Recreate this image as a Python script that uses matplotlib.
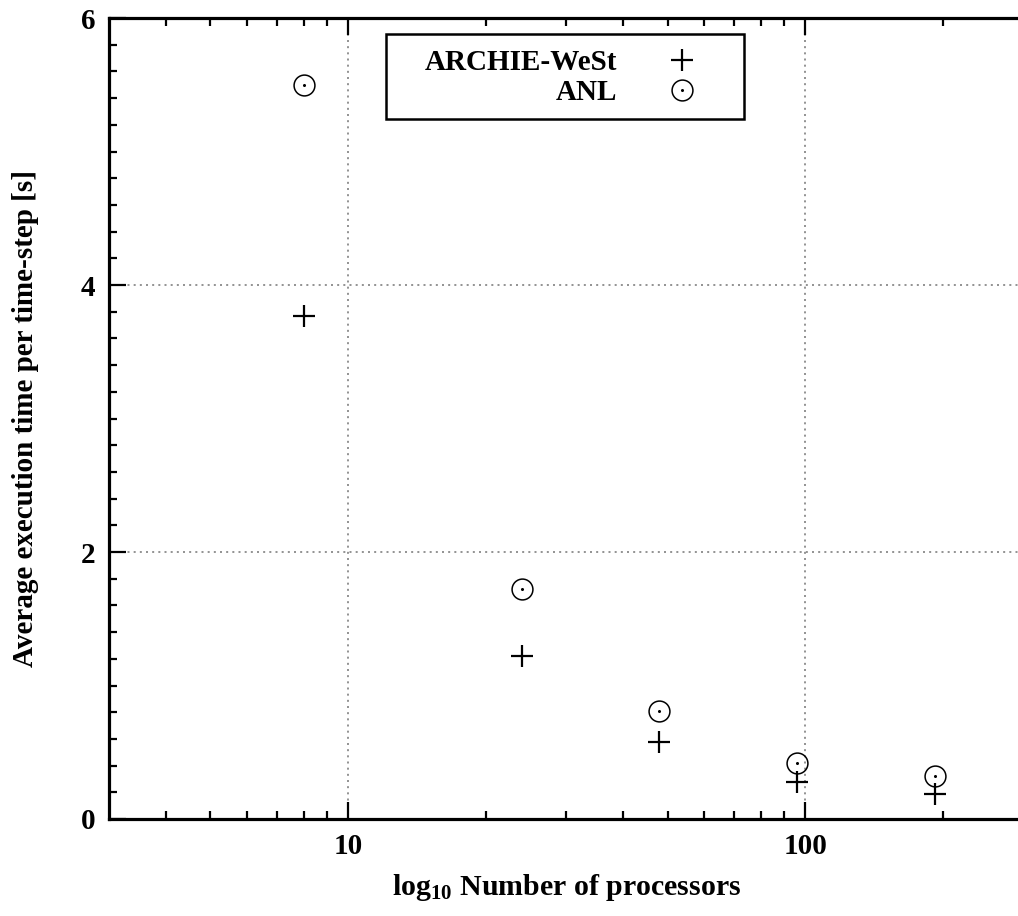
import numpy as np
import matplotlib
matplotlib.use("Agg")
import matplotlib.pyplot as plt
from matplotlib.patches import Rectangle
from matplotlib.ticker import FixedLocator, MultipleLocator, NullFormatter, FixedFormatter

plt.rcParams['font.family'] = ['Liberation Serif', 'DejaVu Serif']
plt.rcParams['font.weight'] = 'bold'
plt.rcParams['mathtext.fontset'] = 'custom'
plt.rcParams['mathtext.rm'] = 'Liberation Serif:bold'
plt.rcParams['mathtext.bf'] = 'Liberation Serif:bold'
plt.rcParams['mathtext.it'] = 'Liberation Serif:bold:italic'

# processors vs. average time per step
procs = [8, 24, 48, 96, 192]
archie = [3.77, 1.22, 0.58, 0.28, 0.19]
anl = [5.50, 1.72, 0.81, 0.42, 0.32]

fig = plt.figure(figsize=(10.18, 9.16), dpi=100)
ax = fig.add_axes([0.1071, 0.1059, 0.898, 0.8744])

p1, = ax.plot(procs, archie, linestyle='none', marker='+', markersize=16,
              markeredgewidth=1.6, color='black')
c1, = ax.plot(procs, anl, linestyle='none', marker='o', markersize=15,
              markerfacecolor='none', markeredgewidth=1.1, color='black')
d1, = ax.plot(procs, anl, linestyle='none', marker='o', markersize=1.2,
              color='black')

ax.set_xscale('log')
ax.set_xlim(3, 300)
ax.set_ylim(0, 6)

ax.xaxis.set_major_locator(FixedLocator([10, 100]))
ax.xaxis.set_major_formatter(FixedFormatter(['10', '100']))
ax.xaxis.set_minor_locator(FixedLocator([4, 5, 6, 7, 8, 9, 20, 30, 40, 50, 60,
                                         70, 80, 90, 200]))
ax.xaxis.set_minor_formatter(NullFormatter())
ax.yaxis.set_major_locator(MultipleLocator(2))
ax.yaxis.set_minor_locator(MultipleLocator(0.2))

ax.tick_params(which='major', direction='in', length=12, width=1.6,
               labelsize=21, pad=10)
ax.tick_params(which='minor', direction='in', length=6, width=1.6)
ax.tick_params(top=True, right=False, which='both')
for lab in ax.get_xticklabels() + ax.get_yticklabels():
    lab.set_fontweight('bold')

for s in ax.spines.values():
    s.set_linewidth(2.3)

ax.grid(True, which='major', linestyle=(0, (1.2, 2.5)), color='gray', linewidth=1.2)
ax.set_axisbelow(True)

ax.set_xlabel('log$_{10}$ Number of processors', fontsize=21.5,
              fontweight='bold', labelpad=9)
ax.set_ylabel('Average execution time per time-step [s]', fontsize=21,
              fontweight='bold', labelpad=30)

# key box
ax.add_patch(Rectangle((0.303, 0.874), 0.3916, 0.106, transform=ax.transAxes,
                       facecolor='white', edgecolor='black', linewidth=1.8,
                       zorder=4))
leg = ax.legend([p1, (c1, d1)], ['ARCHIE-WeSt', 'ANL'], loc='center right',
                bbox_to_anchor=(0.651, 0.926), markerfirst=False,
                frameon=False, fontsize=21, borderpad=0, borderaxespad=0,
                handlelength=1.5, handletextpad=1.5, labelspacing=0.1)
leg.set_zorder(5)
for t in leg.get_texts():
    t.set_fontweight('bold')

fig.savefig('out.png', dpi=100)
